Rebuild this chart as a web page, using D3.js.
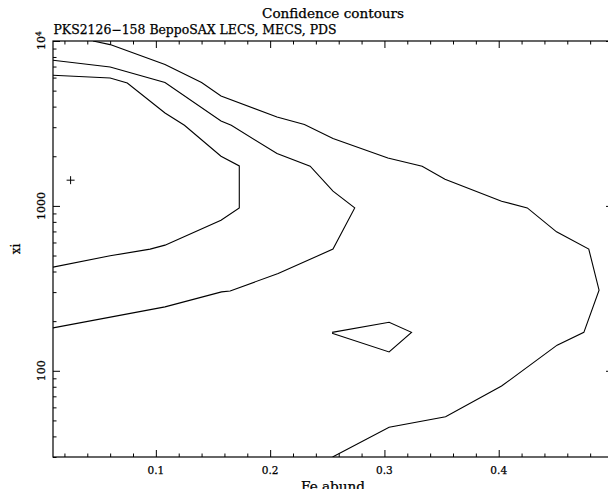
<!DOCTYPE html>
<html>
<head>
<meta charset="utf-8">
<script src="https://cdn.jsdelivr.net/npm/d3@7"></script>
<style>
  html, body { margin: 0; padding: 0; background: #fff; }
  svg { display: block; }
  text { font-family: "DejaVu Serif", "Liberation Serif", serif; fill: #000; stroke: #000; stroke-width: 0.25; }
</style>
</head>
<body>
<svg id="chart" width="608" height="489"></svg>
<script>
// ---------- data (Fe abund, xi) ----------
const contourInner = [
  [0.010, 6200], [0.060, 5970], [0.075, 5566], [0.108, 3661], [0.125, 3084],
  [0.157, 2001], [0.173, 1747], [0.173, 972], [0.157, 819], [0.108, 578],
  [0.095, 547], [0.060, 498], [0.010, 425]
];
const contourMiddle = [
  [0.010, 7638], [0.060, 6958], [0.108, 5597], [0.157, 3275], [0.166, 3084],
  [0.206, 2078], [0.235, 1740], [0.255, 1228], [0.274, 972], [0.255, 547],
  [0.207, 389], [0.165, 305], [0.1575, 301], [0.108, 244], [0.010, 182]
];
const contourOuter = [
  [0.045, 10000], [0.060, 9510], [0.108, 7194], [0.140, 5597], [0.157, 4642],
  [0.206, 3463], [0.230, 3113], [0.255, 2562], [0.303, 1954], [0.333, 1740],
  [0.353, 1451], [0.4025, 1068], [0.425, 972], [0.4506, 696], [0.4788, 547],
  [0.4878, 308], [0.4745, 171], [0.4511, 143], [0.4025, 80.8], [0.3535, 52.6],
  [0.3041, 45.4], [0.2546, 30.0]
];
const contourIsland = [
  [0.2542, 171], [0.3041, 197], [0.3237, 171], [0.3041, 130], [0.2542, 169]
];
const bestFit = [0.0254, 1432];

const xMajorTicks = [0.1, 0.2, 0.3, 0.4, 0.5];
const xMajorLabels = ["0.1", "0.2", "0.3", "0.4"];
const xMinorTicks = [0.02, 0.04, 0.06, 0.08, 0.12, 0.14, 0.16, 0.18, 0.22, 0.24, 0.26, 0.28,
                     0.32, 0.34, 0.36, 0.38, 0.42, 0.44, 0.46, 0.48];
const yMajorTicks = [100, 1000, 10000];
const yMinorTicks = [30, 40, 50, 60, 70, 80, 90, 200, 300, 400, 500, 600, 700, 800, 900,
                     2000, 3000, 4000, 5000, 6000, 7000, 8000, 9000];

const titleText = "Confidence contours";
const subtitleText = "PKS2126\u2212158 BeppoSAX LECS, MECS, PDS";
const xLabelText = "Fe abund";
const yLabelText = "xi";

// ---------- layout ----------
const L = 53, R = 613, T = 41, B = 457;
const svg = d3.select("#chart");
const x = d3.scaleLinear().domain([0.01, 0.5]).range([L, R]);
const y = d3.scaleLog().domain([30, 10000]).range([B, T]);

svg.append("defs").append("clipPath").attr("id", "clip")
  .append("rect").attr("x", L).attr("y", T).attr("width", R - L).attr("height", B - T);

// frame
svg.append("rect").attr("x", L).attr("y", T).attr("width", R - L).attr("height", B - T)
  .attr("fill", "none").attr("stroke", "#000").attr("stroke-width", 1.2);

function tickAxis(axisFn, scale, vals, size, transform) {
  const g = svg.append("g").attr("transform", transform)
    .call(axisFn(scale).tickValues(vals).tickSize(-size).tickFormat(""));
  g.select(".domain").remove();
  g.selectAll("line").attr("stroke", "#000").attr("stroke-width", 1);
  g.selectAll("text").remove();
  return g;
}
tickAxis(d3.axisBottom, x, xMajorTicks, 7, `translate(0,${B})`);
tickAxis(d3.axisBottom, x, xMinorTicks, 3.5, `translate(0,${B})`);
tickAxis(d3.axisTop, x, xMajorTicks, 7, `translate(0,${T})`);
tickAxis(d3.axisTop, x, xMinorTicks, 3.5, `translate(0,${T})`);
tickAxis(d3.axisLeft, y, yMajorTicks, 7, `translate(${L},0)`);
tickAxis(d3.axisLeft, y, yMinorTicks, 3.5, `translate(${L},0)`);
tickAxis(d3.axisRight, y, yMajorTicks, 7, `translate(${R},0)`);
tickAxis(d3.axisRight, y, yMinorTicks, 3.5, `translate(${R},0)`);

// x tick labels
svg.append("g").selectAll("text").data(xMajorLabels).join("text")
  .attr("x", (d, i) => x(xMajorTicks[i])).attr("y", 473.5).attr("text-anchor", "middle")
  .attr("font-size", 10.5).text(d => d);

// y tick labels (rotated)
const yl = svg.append("g");
yl.append("text").attr("transform", `translate(45,${y(100)}) rotate(-90)`)
  .attr("text-anchor", "middle").attr("font-size", 11).text("100");
yl.append("text").attr("transform", `translate(45,${y(1000)}) rotate(-90)`)
  .attr("text-anchor", "middle").attr("font-size", 11).text("1000");
const t4 = yl.append("text").attr("transform", `translate(45,${y(10000) + 9}) rotate(-90)`)
  .attr("text-anchor", "start").attr("font-size", 11);
t4.append("tspan").text("10");
t4.append("tspan").attr("dy", -4).attr("font-size", 7.5).text("4");

// titles
svg.append("text").attr("x", 333).attr("y", 18.3).attr("text-anchor", "middle")
  .attr("font-size", 12).attr("textLength", 142).attr("lengthAdjust", "spacingAndGlyphs")
  .text(titleText);
svg.append("text").attr("x", 53.5).attr("y", 34).attr("text-anchor", "start")
  .attr("font-size", 12).attr("textLength", 283).attr("lengthAdjust", "spacingAndGlyphs")
  .text(subtitleText);
svg.append("text").attr("x", 333).attr("y", 490.5).attr("text-anchor", "middle")
  .attr("font-size", 12).attr("textLength", 64).attr("lengthAdjust", "spacingAndGlyphs")
  .text(xLabelText);
svg.append("text").attr("transform", `translate(19.5,${(T + B) / 2}) rotate(-90)`)
  .attr("text-anchor", "middle").attr("font-size", 12).text(yLabelText);

// contours
const line = d3.line().x(d => x(d[0])).y(d => y(d[1]));
const cg = svg.append("g").attr("clip-path", "url(#clip)");
[contourInner, contourMiddle, contourOuter, contourIsland].forEach(c => {
  cg.append("path").datum(c).attr("d", line)
    .attr("fill", "none").attr("stroke", "#000").attr("stroke-width", 1.1)
    .attr("stroke-linejoin", "miter");
});

// best-fit cross
const bx = x(bestFit[0]), by = y(bestFit[1]);
cg.append("path").attr("d", `M${bx - 4},${by}H${bx + 4}M${bx},${by - 4}V${by + 4}`)
  .attr("stroke", "#000").attr("stroke-width", 1);
</script>
</body>
</html>
